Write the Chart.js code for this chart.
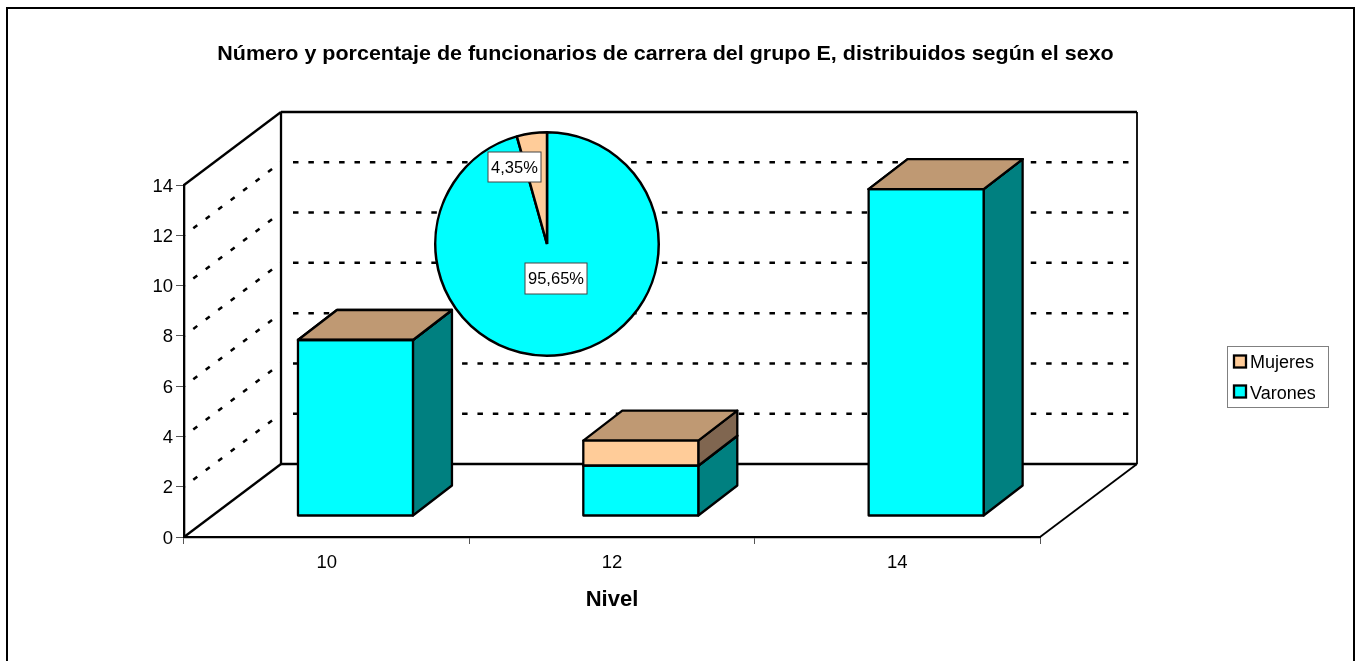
<!DOCTYPE html>
<html>
<head>
<meta charset="utf-8">
<title>Funcionarios grupo E</title>
<script src="https://cdn.jsdelivr.net/npm/chart.js@4/dist/chart.umd.min.js"></script>
<style>
  html, body { margin: 0; padding: 0; background: #fff; overflow: hidden; }
  #wrap { position: relative; width: 1358px; height: 661px; }
  #barChart { position: absolute; left: 0; top: 0; }
  #pieChart { position: absolute; left: 433px; top: 130px; }
</style>
</head>
<body>
<div id="wrap">
  <canvas id="barChart" width="1358" height="661"></canvas>
  <canvas id="pieChart" width="228" height="228"></canvas>
</div>
<script>
const titleText = "Número y porcentaje de funcionarios de carrera del grupo E, distribuidos según el sexo";
const axisTitle = "Nivel";
const niveles = ["10", "12", "14"];
const varones = [7, 2, 13];
const mujeres = [0, 1, 0];
const pieLabels = ["Varones", "Mujeres"];
const pieValues = [22, 1];
const pieTexts = ["95,65%", "4,35%"];

const FONT = '"Liberation Sans", Arial, sans-serif';
// depth of the 3D box and where the bars sit inside it
const WALL = { dx: 97, dy: -73 };
const BAR_SHIFT = { dx: 28.8, dy: -21 };
const BAR_DEPTH = { dx: 39, dy: -30 };
const CYAN = { front: "#00ffff", side: "#008080", top: "#00bfbf" };
const PEACH = { front: "#ffcc99", side: "#806650", top: "#bf9973" };

function poly(ctx, pts, fill) {
  ctx.beginPath();
  ctx.moveTo(pts[0][0], pts[0][1]);
  for (let i = 1; i < pts.length; i++) ctx.lineTo(pts[i][0], pts[i][1]);
  ctx.closePath();
  if (fill) {
    ctx.fillStyle = fill;
    ctx.fill();
  }
  ctx.stroke();
}

function line(ctx, x1, y1, x2, y2) {
  ctx.beginPath();
  ctx.moveTo(x1, y1);
  ctx.lineTo(x2, y2);
  ctx.stroke();
}

const box3d = {
  id: "box3d",
  afterLayout(chart) {
    // title is centred on the whole figure, not on the plot, and the original is a bit wider
    const tb = chart.titleBlock;
    tb.left = 0;
    tb.right = 1331;
    if (!tb.wideDraw) {
      const draw = tb.draw.bind(tb);
      tb.wideDraw = true;
      tb.draw = function () {
        const ctx = chart.ctx;
        ctx.save();
        ctx.translate(665.5, 0);
        ctx.scale(1.064, 1);
        ctx.translate(-665.5, 0);
        draw();
        ctx.restore();
      };
    }
  },
  beforeDraw(chart) {
    const ctx = chart.ctx;
    ctx.save();
    ctx.strokeStyle = "#000";
    ctx.lineWidth = 2;
    ctx.strokeRect(7, 8, 1347, 680);
    ctx.restore();
  },
  beforeDatasetsDraw(chart) {
    const ctx = chart.ctx;
    const a = chart.chartArea;
    const yScale = chart.scales.y;
    ctx.save();
    ctx.strokeStyle = "#000";
    ctx.lineCap = "butt";

    // dotted grid on the side wall and the back wall
    yScale.ticks.forEach((t) => {
      if (t.value === 0) return;
      const y = yScale.getPixelForValue(t.value);
      if (t.value < 14) {
        ctx.lineWidth = 2.5;
        ctx.setLineDash([5, 10.6]);
        ctx.lineDashOffset = 4;
        line(ctx, a.left, y, a.left + WALL.dx, y + WALL.dy);
        ctx.setLineDash([5.5, 9.87]);
        ctx.lineDashOffset = 0;
        line(ctx, a.left + WALL.dx + 12, y + WALL.dy, a.right + WALL.dx - 8, y + WALL.dy);
      }
    });
    ctx.setLineDash([]);

    // walls and floor
    const yb = a.bottom, yt = a.top;
    ctx.lineWidth = 2.3;
    line(ctx, a.left + WALL.dx, yt + WALL.dy, a.left + WALL.dx, yb + WALL.dy);
    line(ctx, a.left + WALL.dx, yb + WALL.dy, a.right + WALL.dx, yb + WALL.dy);
    line(ctx, a.left + WALL.dx, yt + WALL.dy, a.right + WALL.dx, yt + WALL.dy);
    line(ctx, a.left, yt, a.left + WALL.dx, yt + WALL.dy);
    line(ctx, a.left, yb, a.left + WALL.dx, yb + WALL.dy);
    ctx.lineWidth = 1.8;
    line(ctx, a.right + WALL.dx, yt + WALL.dy, a.right + WALL.dx, yb + WALL.dy);
    line(ctx, a.right, yb, a.right + WALL.dx, yb + WALL.dy);

    // side and top faces of each stacked box, read from the bar elements
    ctx.lineWidth = 2.3;
    ctx.lineJoin = "round";
    const colors = [CYAN, PEACH];
    chart.data.datasets.forEach((ds, di) => {
      chart.getDatasetMeta(di).data.forEach((bar) => {
        const r = bar.x + bar.width / 2 + BAR_SHIFT.dx;
        const l = bar.x - bar.width / 2 + BAR_SHIFT.dx;
        const top = bar.y + BAR_SHIFT.dy;
        const base = bar.base + BAR_SHIFT.dy;
        const c = colors[di];
        const d = BAR_DEPTH;
        poly(ctx, [[r, base], [r + d.dx, base + d.dy], [r + d.dx, top + d.dy], [r, top]], c.side);
        poly(ctx, [[l, top], [l + d.dx, top + d.dy], [r + d.dx, top + d.dy], [r, top]], c.top);
      });
    });
    ctx.restore();

    // the bars themselves are drawn by Chart.js, moved into the box
    ctx.save();
    ctx.translate(BAR_SHIFT.dx, BAR_SHIFT.dy);
  },
  afterDatasetsDraw(chart) {
    const ctx = chart.ctx;
    ctx.restore();
    ctx.save();
    ctx.strokeStyle = "#000";
    ctx.lineWidth = 2.3;
    ctx.lineJoin = "round";
    chart.data.datasets.forEach((ds, di) => {
      chart.getDatasetMeta(di).data.forEach((bar) => {
        ctx.strokeRect(bar.x - bar.width / 2 + BAR_SHIFT.dx, bar.y + BAR_SHIFT.dy, bar.width, bar.base - bar.y);
      });
    });
    ctx.restore();
  },
  afterDraw(chart) {
    // legend box on the right
    const ctx = chart.ctx;
    ctx.save();
    ctx.strokeStyle = "#808080";
    ctx.lineWidth = 1;
    ctx.strokeRect(1227.5, 346.5, 101, 61);
    ctx.font = "18px " + FONT;
    ctx.textBaseline = "middle";
    const items = chart.data.datasets.slice().reverse();
    items.forEach((ds, i) => {
      const y = 361.5 + i * 30;
      ctx.fillStyle = ds.backgroundColor;
      ctx.strokeStyle = "#000";
      ctx.lineWidth = 2.3;
      ctx.fillRect(1234, y - 6, 12, 12);
      ctx.strokeRect(1234, y - 6, 12, 12);
      ctx.fillStyle = "#000";
      ctx.fillText(ds.label, 1250, y + 1.5 + i);
    });
    ctx.restore();
  },
};

new Chart(document.getElementById("barChart"), {
  type: "bar",
  data: {
    labels: niveles,
    datasets: [
      { label: "Varones", data: varones, backgroundColor: CYAN.front },
      { label: "Mujeres", data: mujeres, backgroundColor: PEACH.front },
    ],
  },
  options: {
    responsive: false,
    animation: false,
    layout: { padding: { left: 0, right: 318, top: 0, bottom: 0 } },
    datasets: {
      bar: { barPercentage: 0.403, categoryPercentage: 1, borderWidth: 0, inflateAmount: 0 },
    },
    plugins: {
      legend: { display: false },
      tooltip: { enabled: false },
      title: {
        display: true,
        text: titleText,
        color: "#000",
        font: { family: FONT, size: 20.2, weight: "bold", lineHeight: 1.2 },
        padding: { top: 41.9, bottom: 118.86 },
      },
    },
    scales: {
      x: {
        stacked: true,
        afterFit(scale) { scale.height = 124; },
        grid: { drawOnChartArea: false, offset: true, tickLength: 7, color: "#555", lineWidth: 1 },
        border: { color: "#000", width: 2.3 },
        ticks: { color: "#000", padding: 8, maxRotation: 0, font: { family: FONT, size: 18.5 } },
        title: {
          display: true,
          text: axisTitle,
          color: "#000",
          font: { family: FONT, size: 22, weight: "bold", lineHeight: 1.2 },
          padding: { top: 0, bottom: 48 },
        },
      },
      y: {
        stacked: true,
        min: 0,
        max: 14,
        afterFit(scale) { scale.width = 184; },
        grid: { drawOnChartArea: false, tickLength: 8, color: "#555", lineWidth: 1 },
        border: { color: "#000", width: 2.3 },
        ticks: { stepSize: 2, color: "#000", padding: 3, labelOffset: 1.5, font: { family: FONT, size: 18.5 } },
      },
    },
  },
  plugins: [box3d],
});

const pieBoxes = {
  id: "pieBoxes",
  afterDraw(chart) {
    // label boxes, relative to the pie canvas
    const ctx = chart.ctx;
    const spots = [[123, 148.5, 62, 31], [81.5, 37, 53, 30]];
    ctx.save();
    ctx.font = "16.5px " + FONT;
    ctx.textAlign = "center";
    ctx.textBaseline = "middle";
    pieTexts.forEach((txt, i) => {
      const [cx, cy, w, h] = spots[i];
      ctx.fillStyle = "#fff";
      ctx.strokeStyle = "#444";
      ctx.lineWidth = 1;
      ctx.fillRect(cx - w / 2, cy - h / 2, w, h);
      ctx.strokeRect(cx - w / 2, cy - h / 2, w, h);
      ctx.fillStyle = "#000";
      ctx.fillText(txt, cx, cy + 1);
    });
    ctx.restore();
  },
};

new Chart(document.getElementById("pieChart"), {
  type: "pie",
  data: {
    labels: pieLabels,
    datasets: [
      {
        data: pieValues,
        backgroundColor: [CYAN.front, PEACH.front],
        borderColor: "#000",
        borderWidth: 2.5,
      },
    ],
  },
  options: {
    responsive: false,
    animation: false,
    layout: { padding: 1 },
    plugins: { legend: { display: false }, tooltip: { enabled: false } },
  },
  plugins: [pieBoxes],
});
</script>
</body>
</html>
